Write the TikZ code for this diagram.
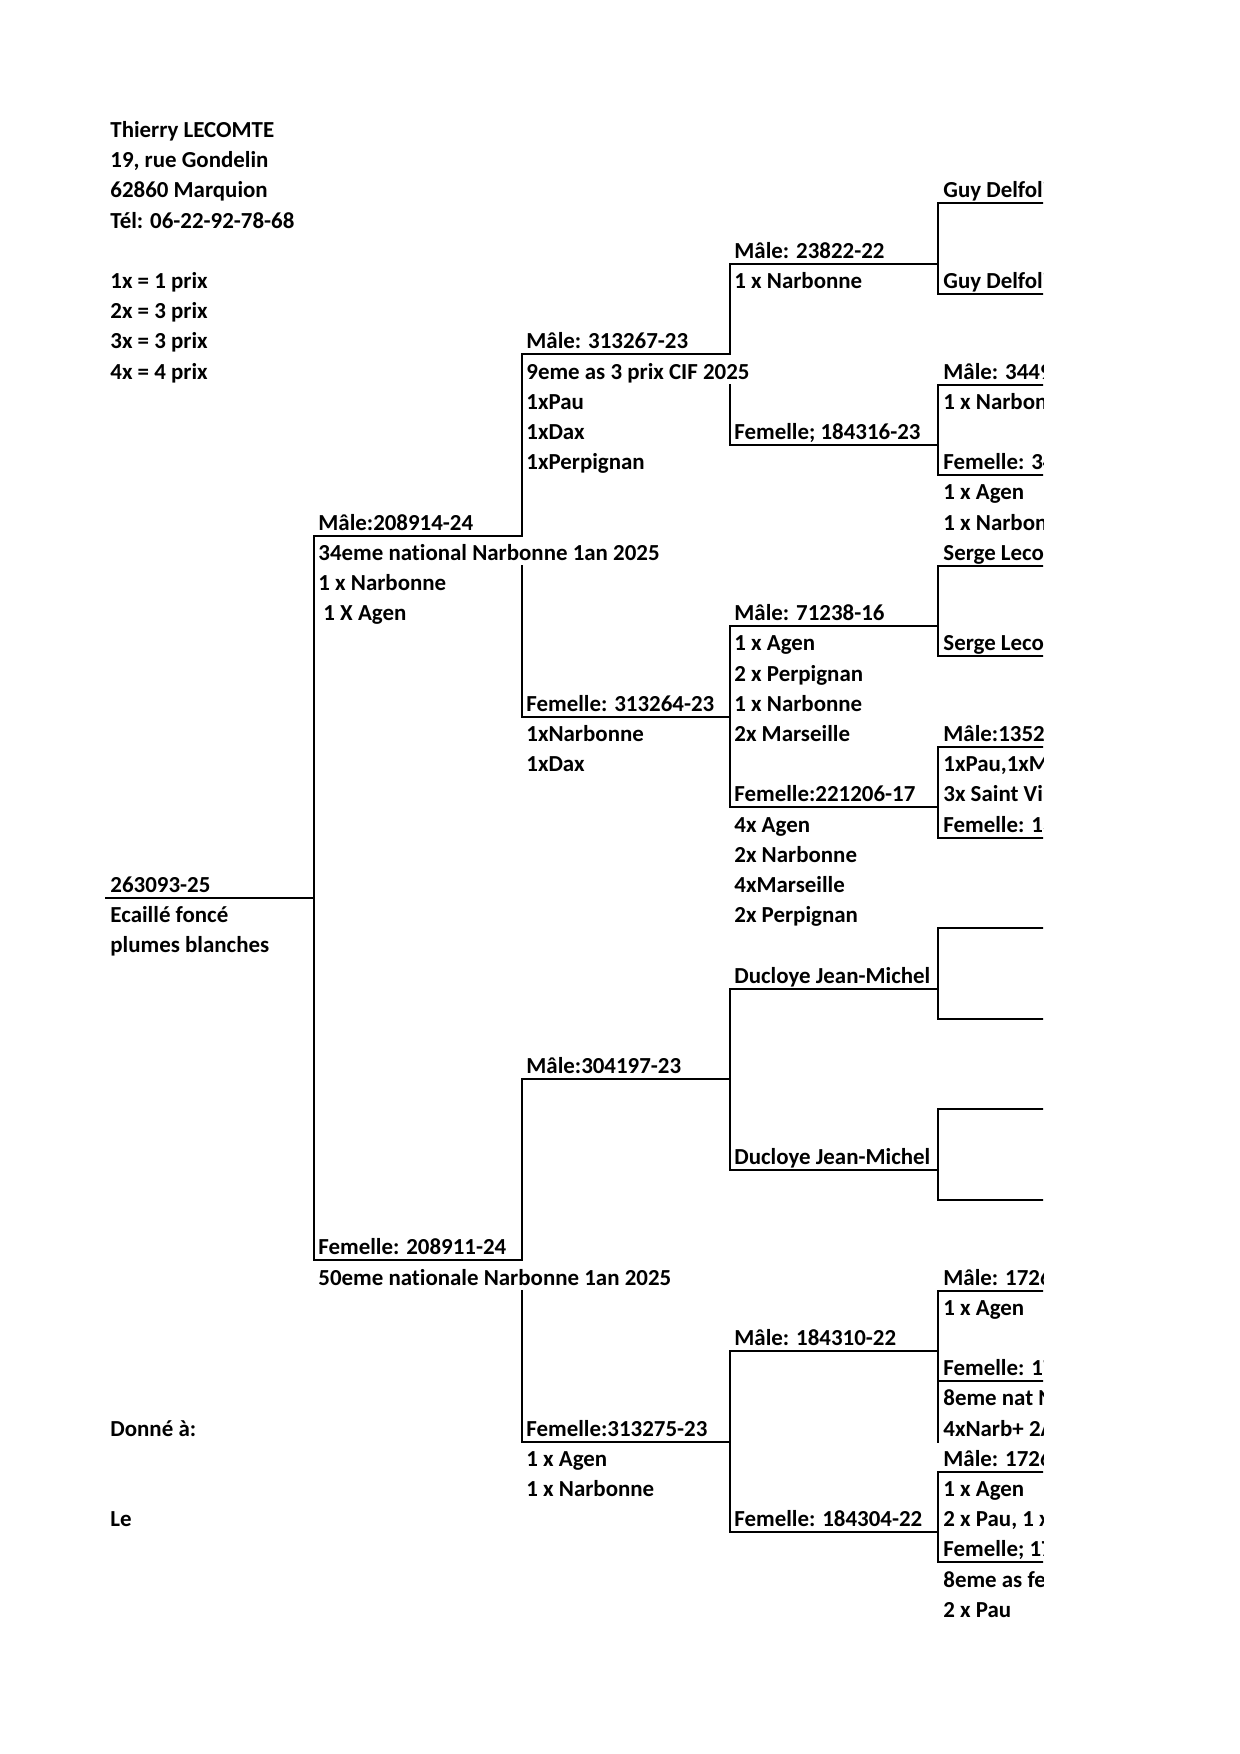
\documentclass[tikz,border=0pt]{standalone}
\usepackage{fontspec}
\setmainfont{Carlito}[Ligatures=NoCommon]
\newcommand\R[1]{(143+(#1-1)*30.2)}
\newcommand\putlabel[4]{\node[txt] (#1) at (#2,{\R{#3}-5.5}) {#4};}
\newcommand\uline[4]{\coordinate (#1-l) at (#2,{\R{#4}});\coordinate (#1-r) at (#3,{\R{#4}});\draw[ln] (#1-l) -- (#1-r);}
\begin{document}
\begin{tikzpicture}[x=0.48pt,y=-0.48pt,
  txt/.style={anchor=base west,inner sep=0pt,font=\bfseries\fontsize{11}{13}\selectfont},
  ln/.style={line width=1pt,line cap=rect}]
\fill[white] (0,0) rectangle (1240,1754);
\useasboundingbox (0,0) rectangle (1240,1754);
% ---------- column A ----------
\putlabel{a1}{110}{1}{Thierry LECOMTE}
\putlabel{a2}{110}{2}{19, rue Gondelin}
\putlabel{a3}{110}{3}{62860 Marquion}
\putlabel{a4}{110}{4}{Tél: 06-22-92-78-68}
\putlabel{a6}{110}{6}{1x = 1 prix}
\putlabel{a7}{110}{7}{2x = 3 prix}
\putlabel{a8}{110}{8}{3x = 3 prix}
\putlabel{a9}{110}{9}{4x = 4 prix}
\putlabel{s}{110}{26}{263093-25}
\putlabel{s2}{110}{27}{Ecaillé foncé}
\putlabel{s3}{110}{28}{plumes blanches}
\putlabel{don}{110}{44}{Donné à:}
\putlabel{le}{110}{47}{Le}
% ---------- column B ----------
\putlabel{p}{318}{14}{Mâle:208914-24}
\putlabel{p2}{318}{15}{34eme national Narbonne 1an 2025}
\putlabel{p3}{318}{16}{1 x Narbonne}
\putlabel{p4}{323}{17}{1 X Agen}
\putlabel{m}{318}{38}{Femelle: 208911-24}
\putlabel{m2}{318}{39}{50eme nationale Narbonne 1an 2025}
% ---------- column C ----------
\putlabel{pp}{526}{8}{Mâle: 313267-23}
\putlabel{pp2}{526}{9}{9eme as 3 prix CIF 2025}
\putlabel{pp3}{526}{10}{1xPau}
\putlabel{pp4}{526}{11}{1xDax}
\putlabel{pp5}{526}{12}{1xPerpignan}
\putlabel{pm}{526}{20}{Femelle: 313264-23}
\putlabel{pm2}{526}{21}{1xNarbonne}
\putlabel{pm3}{526}{22}{1xDax}
\putlabel{mp}{526}{32}{Mâle:304197-23}
\putlabel{mm}{526}{44}{Femelle:313275-23}
\putlabel{mm2}{526}{45}{1 x Agen}
\putlabel{mm3}{526}{46}{1 x Narbonne}
% ---------- column D ----------
\putlabel{ppp}{734}{5}{Mâle: 23822-22}
\putlabel{ppp2}{734}{6}{1 x Narbonne}
\putlabel{ppm}{734}{11}{Femelle; 184316-23}
\putlabel{pmp}{734}{17}{Mâle: 71238-16}
\putlabel{pmp2}{734}{18}{1 x Agen}
\putlabel{pmp3}{734}{19}{2 x Perpignan}
\putlabel{pmp4}{734}{20}{1 x Narbonne}
\putlabel{pmp5}{734}{21}{2x Marseille}
\putlabel{pmm}{734}{23}{Femelle:221206-17}
\putlabel{pmm2}{734}{24}{4x Agen}
\putlabel{pmm3}{734}{25}{2x Narbonne}
\putlabel{pmm4}{734}{26}{4xMarseille}
\putlabel{pmm5}{734}{27}{2x Perpignan}
\putlabel{mpp}{734}{29}{Ducloye Jean-Michel}
\putlabel{mpm}{734}{35}{Ducloye Jean-Michel}
\putlabel{mmp}{734}{41}{Mâle: 184310-22}
\putlabel{mmm}{734}{47}{Femelle: 184304-22}
% ---------- column E (clipped at edge of print area) ----------
\begin{scope}
\clip (930,0) rectangle (1043,1754);
\putlabel{e3}{943}{3}{Guy Delfoli}
\putlabel{e6}{943}{6}{Guy Delfoli}
\putlabel{e9}{943}{9}{Mâle: 3449}
\putlabel{e10}{943}{10}{1 x Narbon}
\putlabel{e12}{943}{12}{Femelle: 34}
\putlabel{e13}{943}{13}{1 x Agen}
\putlabel{e14}{943}{14}{1 x Narbon}
\putlabel{e15}{943}{15}{Serge Leco}
\putlabel{e18}{943}{18}{Serge Leco}
\putlabel{e21}{943}{21}{Mâle:1352}
\putlabel{e22}{943}{22}{1xPau,1xM}
\putlabel{e23}{943}{23}{3x Saint Vi}
\putlabel{e24}{943}{24}{Femelle: 13}
\putlabel{e39}{943}{39}{Mâle: 1726}
\putlabel{e40}{943}{40}{1 x Agen}
\putlabel{e42}{943}{42}{Femelle: 17}
\putlabel{e43}{943}{43}{8eme nat N}
\putlabel{e44}{943}{44}{4xNarb+ 2A}
\putlabel{e45}{943}{45}{Mâle: 1726}
\putlabel{e46}{943}{46}{1 x Agen}
\putlabel{e47}{943}{47}{2 x Pau, 1 x}
\putlabel{e48}{943}{48}{Femelle; 17}
\putlabel{e49}{943}{49}{8eme as fe}
\putlabel{e50}{943}{50}{2 x Pau}
% underlines column E
\uline{E3}{938}{1043}{3}
\uline{E6}{938}{1043}{6}
\uline{E9}{938}{1043}{9}
\uline{E12}{938}{1043}{12}
\uline{E15}{938}{1043}{15}
\uline{E18}{938}{1043}{18}
\uline{E21}{938}{1043}{21}
\uline{E24}{938}{1043}{24}
\uline{E27}{938}{1043}{27}
\uline{E30}{938}{1043}{30}
\uline{E33}{938}{1043}{33}
\uline{E36}{938}{1043}{36}
\uline{E39}{938}{1043}{39}
\uline{E42}{938}{1043}{42}
\uline{E45}{938}{1043}{45}
\uline{E48}{938}{1043}{48}
\end{scope}
% ---------- underlines ----------
\uline{S}{106}{314}{26}
\uline{P}{314}{522}{14}
\uline{M}{314}{522}{38}
\uline{PP}{522}{730}{8}
\uline{PM}{522}{730}{20}
\uline{MP}{522}{730}{32}
\uline{MM}{522}{730}{44}
\uline{PPP}{730}{938}{5}
\uline{PPM}{730}{938}{11}
\uline{PMP}{730}{938}{17}
\uline{PMM}{730}{938}{23}
\uline{MPP}{730}{938}{29}
\uline{MPM}{730}{938}{35}
\uline{MMP}{730}{938}{41}
\uline{MMM}{730}{938}{47}
% ---------- brackets ----------
\draw[ln] (P-l) -- (M-l);
\draw[ln] (PP-l) -- (P-r) (522,{\R{15}}) -- (PM-l);
\draw[ln] (MP-l) -- (M-r) (522,{\R{39}}) -- (MM-l);
\draw[ln] (PPP-l) -- (PP-r) (730,{\R{9}}) -- (PPM-l);
\draw[ln] (PMP-l) -- (PMM-l);
\draw[ln] (MPP-l) -- (MPM-l);
\draw[ln] (MMP-l) -- (MMM-l);
\draw[ln] (E3-l) -- (E6-l);
\draw[ln] (E9-l) -- (E12-l);
\draw[ln] (E15-l) -- (E18-l);
\draw[ln] (E21-l) -- (E24-l);
\draw[ln] (E27-l) -- (E30-l);
\draw[ln] (E33-l) -- (E36-l);
\draw[ln] (E39-l) -- (938,{\R{44}});
\draw[ln] (E45-l) -- (E48-l);
\end{tikzpicture}
\end{document}
